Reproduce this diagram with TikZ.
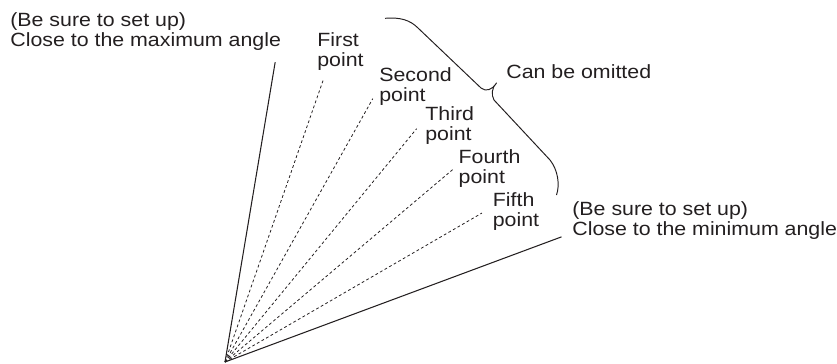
\documentclass[tikz,border=0pt]{standalone}
\usepackage{fontspec}
\setmainfont{Liberation Sans}[FakeStretch=1.115]
\usepackage{tikz}
\usetikzlibrary{calc}
\definecolor{agedge}{RGB}{35,31,32}
\tikzset{
  lbl/.style={
    font=\fontsize{10.9}{11.3}\selectfont, text=agedge,
    align=left, inner sep=0pt, anchor=base west
  },
  limit/.style={draw=agedge, line width=0.6pt},
  ray/.style={draw=agedge, line width=0.45pt, dash pattern=on 1.6pt off 1.4pt},
  brc/.style={draw=agedge, line width=0.55pt, line join=round}
}
\begin{document}
\begin{tikzpicture}[x=0.02cm,y=0.02cm]
  \useasboundingbox (0,0) rectangle (837,363);
  \coordinate (O) at (225,1);
  % the two set limits
  \draw[limit] (O) -- ++(80.5:304) coordinate (amax);
  \draw[limit] (O) -- ++(20.4:359) coordinate (amin);
  % optional points
  \foreach \n/\a/\l in {1/70.8/299, 2/60.7/302, 3/50.6/302, 4/40.2/298, 5/30.1/297}
    \draw[ray] (O) -- ++(\a:\l) coordinate (r\n);
  % base of a two-line label = its last line
  \node[lbl] (maxlbl) at (10,316.3) {(Be sure to set up)\\Close to the maximum angle};
  \node[lbl] (minlbl) at (572,127.3) {(Be sure to set up)\\Close to the minimum angle};
  \node[lbl] (p1) at (317,296.3) {First\\point};
  \node[lbl] (p2) at (379,261.3) {Second\\point};
  \node[lbl] (p3) at (425,222.3) {Third\\point};
  \node[lbl] (p4) at (458.3,179.7) {Fourth\\point};
  \node[lbl] (p5) at (492.5,136.3) {Fifth\\point};
  \node[lbl] (omit) at (506,284.7) {Can be omitted};
  % brace over the optional points
  \draw[brc] (385,344.7) .. controls (400,346) and (410,343) .. (418,335)
    -- (481,275) .. controls (486,271) and (492,273) .. (496.5,280)
    coordinate (tip)
    .. controls (492,276) and (491,268) .. (494,263)
    -- (550,203) .. controls (558,193) and (560,178) .. (556.5,168);
\end{tikzpicture}
\end{document}
